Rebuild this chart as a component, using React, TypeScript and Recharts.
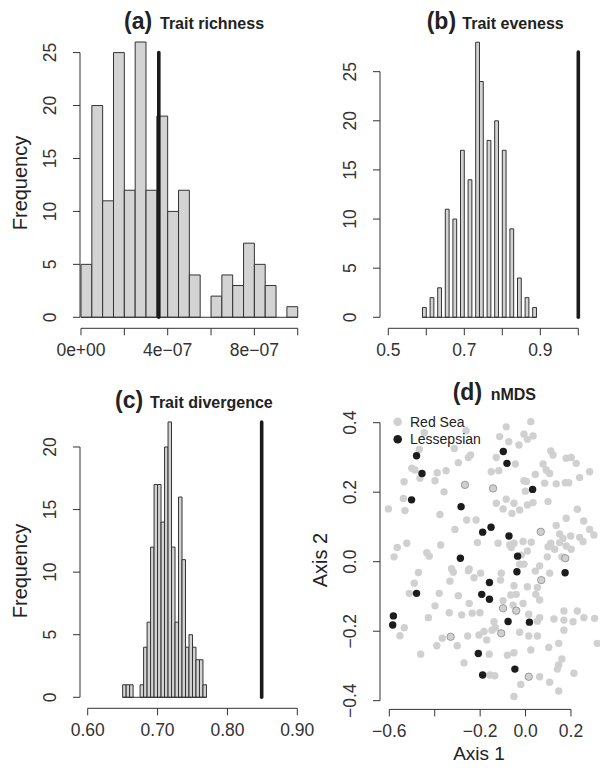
import React from 'react';
import { ComposedChart, Bar, XAxis, YAxis, ReferenceLine, ScatterChart, Scatter } from 'recharts';

const FONT = '"Liberation Sans", Arial, Helvetica, sans-serif';
const INK = '#333333';
const BAR_FILL = '#D3D3D3';
const GRAY_PT = '#D0D0D0';
const BLACK_PT = '#1c1c1c';
const MINUS = '\u2212';

// ---------- (a) Trait richness ----------
const richnessCounts = [5, 20, 11, 25, 12, 26, 12, 19, 10, 12, 4, 0, 2, 4, 3, 7, 5, 3, 0, 1];
const richnessBinStart = 0;
const richnessBinWidth = 0.5e-7;
const richnessObserved = 3.59e-7;
const richnessObservedTop = 25;
const richnessXTicks = [0, 2e-7, 4e-7, 6e-7, 8e-7, 1e-6];
const richnessXLabels = ['0e+00', '', `4e${MINUS}07`, '', `8e${MINUS}07`, ''];
const richnessYTicks = [0, 5, 10, 15, 20, 25];

// ---------- (b) Trait eveness ----------
const evenessCounts = [1, 0, 2, 0, 3, 0, 11, 0, 10, 0, 17, 0, 14, 0, 28, 24, 0, 18, 0, 20, 0, 17, 0, 9, 0, 4, 0, 2, 0, 1];
const evenessBinStart = 0.59;
const evenessBinWidth = 0.01;
const evenessObserved = 1.0;
const evenessObservedTop = 27;
const evenessXTicks = [0.5, 0.6, 0.7, 0.8, 0.9, 1.0];
const evenessXLabels = ['0.5', '', '0.7', '', '0.9', ''];
const evenessYTicks = [0, 5, 10, 15, 20, 25];

// ---------- (c) Trait divergence ----------
const divergenceCounts = [1, 1, 1, 0, 0, 1, 4, 6, 12, 17, 17, 14, 20, 22, 12, 6, 16, 11, 4, 5, 4, 3, 3, 1];
const divergenceBinStart = 0.65;
const divergenceBinWidth = 0.005;
const divergenceObserved = 0.849;
const divergenceObservedTop = 22;
const divergenceXTicks = [0.6, 0.7, 0.8, 0.9];
const divergenceXLabels = ['0.60', '0.70', '0.80', '0.90'];
const divergenceYTicks = [0, 5, 10, 15, 20];

// ---------- (d) nMDS ----------
const redSeaPoints: [number, number][] = [
  [-0.085, 0.388], [0.023, 0.403], [-0.114, 0.36], [-0.074, 0.345], [-0.007, 0.367], [0.008, 0.352],
  [0.033, 0.362], [-0.029, 0.336], [-0.129, 0.3], [0.111, 0.319], [0.121, 0.307], [0.179, 0.298],
  [0.201, 0.3], [0.223, 0.283], [-0.045, 0.281], [-0.151, 0.259], [-0.118, 0.262], [0.077, 0.281],
  [0.091, 0.264], [0.106, 0.254], [0.043, 0.251], [0.282, 0.259], [-0.007, 0.233], [0.004, 0.231],
  [0.084, 0.226], [0.135, 0.224], [0.175, 0.227], [0.19, 0.227], [0.238, 0.242], [-0.001, 0.203],
  [-0.129, 0.168], [-0.085, 0.18], [-0.099, 0.152], [-0.051, 0.168], [-0.026, 0.149], [-0.06, 0.139],
  [0.008, 0.163], [0.033, 0.17], [0.099, 0.173], [0.228, 0.151], [0.179, 0.125], [0.135, 0.104],
  [0.256, 0.117], [0.301, 0.077], [0.282, 0.093], [0.15, 0.08], [0.165, 0.067], [0.199, 0.074],
  [0.238, 0.07], [0.253, 0.058], [-0.121, 0.053], [-0.051, 0.053], [-0.011, 0.058], [0.025, 0.056],
  [-0.063, 0.041], [-0.07, 0.048], [0.008, 0.031], [-0.019, 0.019], [0.111, 0.053], [0.15, 0.055],
  [0.099, 0.043], [0.179, 0.045], [0.201, 0.036], [0.128, 0.036], [0.096, 0.014], [0.16, 0.014],
  [-0.446, 0.371], [-0.262, 0.377], [-0.468, 0.323], [-0.314, 0.326], [-0.242, 0.307], [-0.252, 0.3],
  [-0.501, 0.269], [-0.487, 0.264], [-0.465, 0.24], [-0.389, 0.256], [-0.35, 0.262], [-0.296, 0.285],
  [-0.535, 0.23], [-0.399, 0.233], [-0.359, 0.201], [-0.538, 0.182], [-0.604, 0.152], [-0.531, 0.147],
  [-0.377, 0.136], [-0.259, 0.12], [-0.218, 0.12], [-0.311, 0.093], [-0.212, 0.055], [-0.565, 0.041],
  [-0.523, 0.053], [-0.435, 0.026], [-0.424, 0.016], [-0.374, 0.048], [-0.579, 0.014],
  [-0.326, -0.02], [-0.318, -0.03], [-0.248, -0.021], [-0.252, -0.026], [-0.227, -0.046], [-0.198, -0.033],
  [-0.472, -0.031], [-0.49, -0.062], [-0.333, -0.056], [-0.512, -0.091], [-0.38, -0.091], [-0.296, -0.098],
  [-0.399, -0.127], [-0.248, -0.12], [-0.428, -0.161], [-0.336, -0.147], [-0.281, -0.153], [-0.235, -0.148],
  [-0.201, -0.147], [-0.534, -0.19], [-0.553, -0.213], [-0.367, -0.22], [-0.255, -0.214], [-0.205, -0.211],
  [-0.391, -0.242], [-0.301, -0.242], [-0.462, -0.266], [-0.271, -0.291], [-0.183, -0.201], [-0.171, -0.225],
  [-0.16, -0.266], [-0.157, -0.326],
  [-0.026, -0.007], [-0.007, -0.007], [0.062, -0.012], [0.043, -0.027], [0.106, -0.033], [-0.107, -0.033],
  [-0.11, -0.053], [-0.051, -0.069], [0.008, -0.072], [0.052, -0.074], [0.045, -0.094], [0.062, -0.11],
  [-0.065, -0.096], [-0.041, -0.094], [-0.099, -0.112], [-0.011, -0.12], [-0.055, -0.125], [0.014, -0.151],
  [0.062, -0.161], [0.052, -0.171], [0.125, -0.165], [0.169, -0.142], [0.228, -0.142], [0.169, -0.168],
  [0.209, -0.173], [0.257, -0.161], [0.304, -0.163], [-0.139, -0.173], [-0.148, -0.197], [-0.133, -0.19],
  [-0.026, -0.203], [0.014, -0.214], [0.052, -0.214], [0.169, -0.197], [0.146, -0.235], [0.102, -0.247],
  [0.316, -0.235], [-0.08, -0.269], [-0.051, -0.262], [0.023, -0.254], [0.16, -0.28], [0.146, -0.297],
  [0.14, -0.309], [0.213, -0.321], [-0.136, -0.328], [0.062, -0.331], [-0.021, -0.353], [0.106, -0.347],
  [0.146, -0.372], [-0.051, -0.388],
];
const redSeaEdgedPoints: [number, number][] = [
  [-0.143, 0.211], [0.067, 0.086], [0.175, 0.01], [-0.267, 0.221], [-0.33, -0.216],
  [0.069, -0.053], [-0.099, -0.134], [-0.041, -0.141], [-0.107, -0.206], [0.014, -0.331],
];
const lessepsianPoints: [number, number][] = [
  [-0.48, 0.305], [-0.456, 0.254], [-0.502, 0.178], [-0.582, -0.156], [-0.585, -0.182], [-0.48, -0.091],
  [-0.284, 0.158], [-0.189, 0.085], [-0.152, 0.099], [-0.287, 0.01], [-0.193, -0.094], [-0.159, -0.06],
  [-0.159, -0.108], [-0.098, 0.317], [-0.082, 0.283], [-0.073, 0.074], [-0.035, 0.016], [-0.038, -0.029],
  [-0.077, -0.172], [0.031, 0.208], [0.017, -0.174], [0.174, -0.032], [-0.208, -0.264], [-0.189, -0.326],
  [-0.047, -0.309],
];
const nmdsXTicks = [-0.6, -0.4, -0.2, 0.0, 0.2];
const nmdsXLabels = [`${MINUS}0.6`, '', `${MINUS}0.2`, '0.0', '0.2'];
const nmdsYTicks = [-0.4, -0.2, 0.0, 0.2, 0.4];
const nmdsYLabels = [`${MINUS}0.4`, `${MINUS}0.2`, '0.0', '0.2', '0.4'];

// ---------- layout (pixels) ----------
const W = 600;
const H = 773;
const Y_AXIS_W = 60;
const X_AXIS_H = 40;

type Plot = { L: number; R: number; T: number; B: number };

const makeXTick = (labels: string[]) => (p: any) => (
  <text x={p.x} y={p.y} dy={19} textAnchor="middle" fontSize={17.5} fontFamily={FONT} fill={INK}>
    {labels[p.index] ?? ''}
  </text>
);

const makeYTick = (labels: string[]) => (p: any) => {
  const bx = p.x - 15;
  return (
    <text
      x={bx}
      y={p.y}
      transform={`rotate(-90 ${bx} ${p.y})`}
      textAnchor="middle"
      fontSize={17.5}
      fontFamily={FONT}
      fill={INK}
    >
      {labels[p.index] ?? ''}
    </text>
  );
};

const marginFor = (plot: Plot) => ({
  top: plot.T,
  left: plot.L - Y_AXIS_W,
  right: W - plot.R,
  bottom: H - plot.B - X_AXIS_H,
});

type HistProps = {
  counts: number[];
  binStart: number;
  binWidth: number;
  observed: number;
  observedTop: number;
  xTicks: number[];
  xLabels: string[];
  yTicks: number[];
  xDomain: [number, number];
  yDomain: [number, number];
  plot: Plot;
};

function Histogram(props: HistProps) {
  const { counts, binStart, binWidth, observed, observedTop, xTicks, xLabels, yTicks, xDomain, yDomain, plot } = props;
  const data = counts.map((c, i) => ({ x: binStart + (i + 0.5) * binWidth, count: c }));
  const pxPerUnit = (plot.R - plot.L) / (xDomain[1] - xDomain[0]);
  const barPx = binWidth * pxPerUnit - 0.02;
  const binEnd = binStart + counts.length * binWidth;
  const yLabels = yTicks.map((t) => String(t));
  return (
    <div style={{ position: 'absolute', left: 0, top: 0 }}>
      <ComposedChart width={W} height={H} data={data} margin={marginFor(plot)} barCategoryGap={0} barGap={0}>
        <XAxis
          type="number"
          dataKey="x"
          domain={xDomain}
          allowDataOverflow
          ticks={xTicks}
          interval={0}
          axisLine={false}
          tickSize={7}
          tickLine={{ stroke: INK, strokeWidth: 1 }}
          tick={makeXTick(xLabels)}
          height={X_AXIS_H}
        />
        <YAxis
          type="number"
          domain={yDomain}
          allowDataOverflow
          ticks={yTicks}
          interval={0}
          axisLine={false}
          tickSize={7}
          tickLine={{ stroke: INK, strokeWidth: 1 }}
          tick={makeYTick(yLabels)}
          width={Y_AXIS_W}
        />
        <Bar dataKey="count" fill={BAR_FILL} stroke={INK} strokeWidth={1} barSize={barPx} isAnimationActive={false} />
        <ReferenceLine
          segment={[{ x: binStart, y: 0 }, { x: binEnd, y: 0 }]}
          stroke={INK}
          strokeWidth={1}
          ifOverflow="visible"
        />
        <ReferenceLine
          segment={[{ x: xTicks[0], y: yDomain[0] }, { x: xTicks[xTicks.length - 1], y: yDomain[0] }]}
          stroke={INK}
          strokeWidth={1}
          ifOverflow="visible"
        />
        <ReferenceLine
          segment={[{ x: xDomain[0], y: yTicks[0] }, { x: xDomain[0], y: yTicks[yTicks.length - 1] }]}
          stroke={INK}
          strokeWidth={1}
          ifOverflow="visible"
        />
        <ReferenceLine
          segment={[{ x: observed, y: 0 }, { x: observed, y: observedTop }]}
          stroke="#1a1a1a"
          strokeWidth={3.6}
          strokeLinecap="round"
          ifOverflow="visible"
        />
      </ComposedChart>
    </div>
  );
}

const dotShape = (fill: string, stroke?: string) => (p: any) => (
  <circle cx={p.cx} cy={p.cy} r={3.7} fill={fill} stroke={stroke ?? 'none'} strokeWidth={stroke ? 0.8 : 0} />
);

function NmdsPanel() {
  const plot: Plot = { L: 380, R: 600, T: 414.0, B: 709.4 };
  const xDomain: [number, number] = [-0.641, 0.3278];
  const yDomain: [number, number] = [-0.425, 0.425];
  const toObj = (arr: [number, number][]) => arr.map(([x, y]) => ({ x, y }));
  return (
    <div style={{ position: 'absolute', left: 0, top: 0 }}>
      <ScatterChart width={W} height={H} margin={marginFor(plot)}>
        <XAxis
          type="number"
          dataKey="x"
          domain={xDomain}
          allowDataOverflow
          ticks={nmdsXTicks}
          interval={0}
          axisLine={false}
          tickSize={7}
          tickLine={{ stroke: INK, strokeWidth: 1 }}
          tick={makeXTick(nmdsXLabels)}
          height={X_AXIS_H}
        />
        <YAxis
          type="number"
          dataKey="y"
          domain={yDomain}
          allowDataOverflow
          ticks={nmdsYTicks}
          interval={0}
          axisLine={false}
          tickSize={7}
          tickLine={{ stroke: INK, strokeWidth: 1 }}
          tick={makeYTick(nmdsYLabels)}
          width={Y_AXIS_W}
        />
        <ReferenceLine
          segment={[{ x: nmdsXTicks[0], y: yDomain[0] }, { x: nmdsXTicks[nmdsXTicks.length - 1], y: yDomain[0] }]}
          stroke={INK}
          strokeWidth={1}
          ifOverflow="visible"
        />
        <ReferenceLine
          segment={[{ x: xDomain[0], y: nmdsYTicks[0] }, { x: xDomain[0], y: nmdsYTicks[nmdsYTicks.length - 1] }]}
          stroke={INK}
          strokeWidth={1}
          ifOverflow="visible"
        />
        <Scatter name="Red Sea" data={toObj(redSeaPoints)} shape={dotShape(GRAY_PT)} isAnimationActive={false} />
        <Scatter name="Red Sea edged" data={toObj(redSeaEdgedPoints)} shape={dotShape(GRAY_PT, '#8a8a8a')} isAnimationActive={false} />
        <Scatter name="Lessepsian" data={toObj(lessepsianPoints)} shape={dotShape(BLACK_PT)} isAnimationActive={false} />
      </ScatterChart>
    </div>
  );
}

function Overlay() {
  const t = { fontFamily: FONT, fill: '#222222' } as const;
  return (
    <svg width={W} height={H} style={{ position: 'absolute', left: 0, top: 0, pointerEvents: 'none' }}>
      {/* titles */}
      <text x={124} y={29} fontSize={23} fontWeight="bold" {...t}>(a)</text>
      <text x={160} y={29} fontSize={16} fontWeight="bold" {...t}>Trait richness</text>
      <text x={426.7} y={29} fontSize={23} fontWeight="bold" {...t}>(b)</text>
      <text x={462.3} y={29} fontSize={16} fontWeight="bold" {...t}>Trait eveness</text>
      <text x={115} y={408} fontSize={23} fontWeight="bold" {...t}>(c)</text>
      <text x={150} y={408} fontSize={16} fontWeight="bold" {...t}>Trait divergence</text>
      <text x={452.7} y={399.5} fontSize={23} fontWeight="bold" {...t}>(d)</text>
      <text x={490.7} y={399.5} fontSize={16} fontWeight="bold" {...t}>nMDS</text>
      {/* axis titles */}
      <text x={27} y={183} transform="rotate(-90 27 183)" textAnchor="middle" fontSize={20} {...t}>Frequency</text>
      <text x={27} y={571} transform="rotate(-90 27 571)" textAnchor="middle" fontSize={20} {...t}>Frequency</text>
      <text x={327} y={560} transform="rotate(-90 327 560)" textAnchor="middle" fontSize={20} {...t}>Axis 2</text>
      <text x={479} y={759.5} textAnchor="middle" fontSize={19} {...t}>Axis 1</text>
      {/* legend */}
      <circle cx={397.7} cy={421.7} r={4.3} fill={GRAY_PT} />
      <circle cx={397.7} cy={439.3} r={4.3} fill={BLACK_PT} />
      <text x={410} y={426.7} fontSize={14} {...t}>Red Sea</text>
      <text x={410} y={444} fontSize={14} {...t}>Lessepsian</text>
    </svg>
  );
}

export default function App() {
  return (
    <div style={{ position: 'absolute', left: 0, top: 0, width: W, height: H, background: '#ffffff', overflow: 'hidden' }}>
      <Histogram
        counts={richnessCounts}
        binStart={richnessBinStart}
        binWidth={richnessBinWidth}
        observed={richnessObserved}
        observedTop={richnessObservedTop}
        xTicks={richnessXTicks}
        xLabels={richnessXLabels}
        yTicks={richnessYTicks}
        xDomain={[-0.0046e-6, 1.04e-6]}
        yDomain={[-1.04, 27.04]}
        plot={{ L: 80, R: 306.4, T: 31.0, B: 328.3 }}
      />
      <Histogram
        counts={evenessCounts}
        binStart={evenessBinStart}
        binWidth={evenessBinWidth}
        observed={evenessObserved}
        observedTop={evenessObservedTop}
        xTicks={evenessXTicks}
        xLabels={evenessXLabels}
        yTicks={evenessYTicks}
        xDomain={[0.47816, 1.05711]}
        yDomain={[-1.12, 29.12]}
        plot={{ L: 380, R: 600, T: 31.2, B: 328.3 }}
      />
      <Histogram
        counts={divergenceCounts}
        binStart={divergenceBinStart}
        binWidth={divergenceBinWidth}
        observed={divergenceObserved}
        observedTop={divergenceObservedTop}
        xTicks={divergenceXTicks}
        xLabels={divergenceXLabels}
        yTicks={divergenceYTicks}
        xDomain={[0.58898, 0.91244]}
        yDomain={[-0.88, 22.88]}
        plot={{ L: 80, R: 306, T: 410.95, B: 708.3 }}
      />
      <NmdsPanel />
      <Overlay />
    </div>
  );
}
